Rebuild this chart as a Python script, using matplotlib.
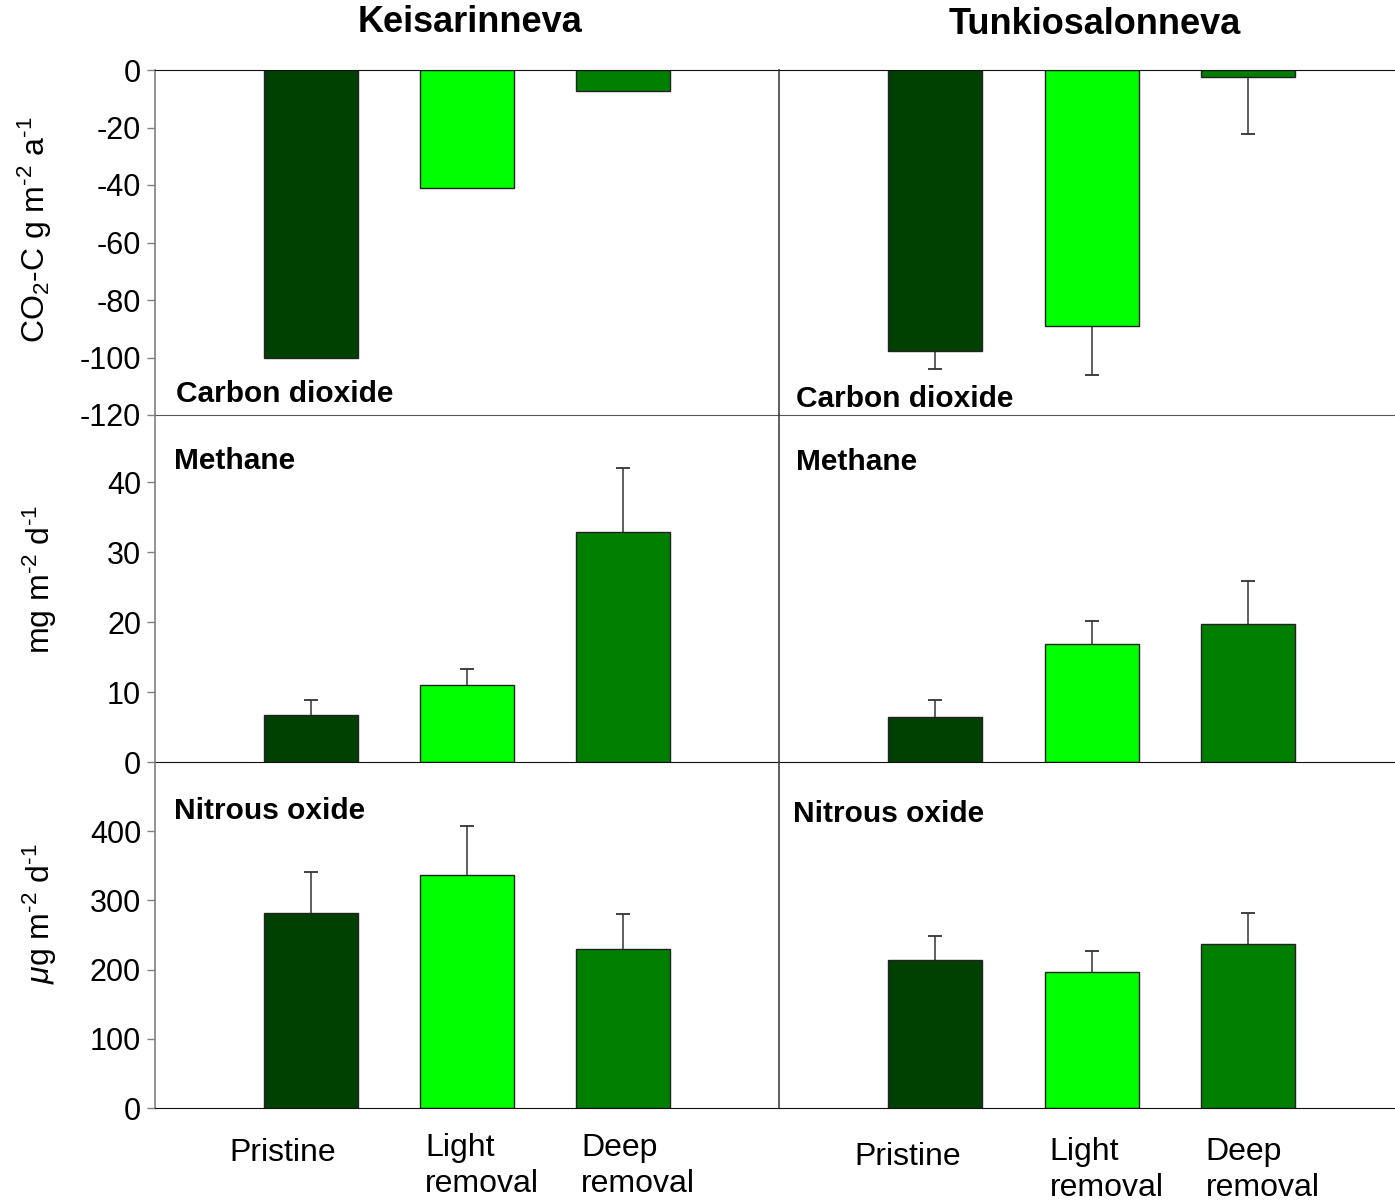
import matplotlib
matplotlib.use('Agg')
import matplotlib.pyplot as plt
import matplotlib.transforms as mtrans

plt.rcParams['font.family'] = ['Liberation Sans', 'DejaVu Sans']
plt.rcParams['mathtext.fontset'] = 'custom'
plt.rcParams['mathtext.rm'] = 'Liberation Sans'
plt.rcParams['mathtext.it'] = 'Liberation Sans:italic'
plt.rcParams['axes.unicode_minus'] = False

# data
treatments = ['Pristine', 'Light\nremoval', 'Deep\nremoval']
sites = ['Keisarinneva', 'Tunkiosalonneva']

co2_keis = [-100.2, -41.0, -7.3]
co2_tunk = [-97.7, -89.0, -2.4]
co2_tunk_se = [6.3, 17.0, 20.0]

ch4_keis = [6.7, 11.0, 32.9]
ch4_keis_se = [2.2, 2.3, 9.1]
ch4_tunk = [6.4, 16.9, 19.7]
ch4_tunk_se = [2.5, 3.2, 6.2]

n2o_keis = [281.6, 336.5, 229.6]
n2o_keis_se = [59.2, 70.5, 50.4]
n2o_tunk = [213.7, 196.4, 236.8]
n2o_tunk_se = [34.3, 30.3, 44.8]

colors = ['#004000', '#00ff00', '#007f00']
xpos = [1, 2, 3]

fig = plt.figure(figsize=(13.95, 12.02), dpi=100)

W, H = 1395., 1202.
cols = [(155, 779), (779, 1395)]
rows = [(70, 415), (415, 762), (762, 1108)]

panels = [
    [(co2_keis, None, (-120, 0), range(-120, 1, 20), 'Carbon dioxide', (0.034, 0.061)),
     (co2_tunk, co2_tunk_se, (-120, 0), None, 'Carbon dioxide', (0.028, 0.046))],
    [(ch4_keis, ch4_keis_se, (0, 49.6), range(0, 41, 10), 'Methane', (0.03, 0.867)),
     (ch4_tunk, ch4_tunk_se, (0, 49.6), None, 'Methane', (0.028, 0.865))],
    [(n2o_keis, n2o_keis_se, (0, 500), range(0, 401, 100), 'Nitrous oxide', (0.03, 0.858)),
     (n2o_tunk, n2o_tunk_se, (0, 500), None, 'Nitrous oxide', (0.023, 0.85))],
]

for r, (y0, y1) in enumerate(rows):
    for c, (x0, x1) in enumerate(cols):
        vals, se, ylim, ticks, name, lpos = panels[r][c]
        ax = fig.add_axes([x0 / W, 1 - y1 / H, (x1 - x0) / W, (y1 - y0) / H])
        ax.bar(xpos, vals, width=0.6, color=colors, edgecolor='#222222', linewidth=1.0, zorder=2)
        if se is not None:
            # one-sided error bars, cap only at the tip
            tips = [v - e if v < 0 else v + e for v, e in zip(vals, se)]
            ax.vlines(xpos, vals, tips, color='#333333', linewidth=1.1, zorder=1)
            ax.plot(xpos, tips, linestyle='none', marker='_', markersize=10,
                    markeredgewidth=1.3, color='#333333', zorder=1)
        ax.set_xlim(0, 4 if c == 0 else 3.94)
        ax.set_ylim(*ylim)
        ax.set_xticks([])
        ax.spines['right'].set_visible(False)
        ax.spines['top'].set_visible(r == 0)
        ax.spines['top'].set_color('#111111')
        ax.spines['bottom'].set_color('#555555' if r == 0 else '#111111')
        ax.spines['left'].set_color('#808080' if c == 0 else '#444444')
        ax.spines['left'].set_linewidth(1.2)
        if ticks is not None:
            ax.set_yticks(list(ticks))
            ax.tick_params(axis='y', direction='out', length=6, width=1.0,
                           color='#808080', labelsize=22, pad=4)
        else:
            ax.set_yticks([])
        ax.patch.set_alpha(0)
        ax.text(lpos[0], lpos[1], name, transform=ax.transAxes, fontsize=21.5,
                fontweight='bold', ha='left', va='center')

        if r == 2:
            trans = mtrans.blended_transform_factory(ax.transData, ax.transAxes)
            dy = 0 if c == 0 else -0.012
            ax.text(0.82, -0.13 + dy, treatments[0], transform=trans, fontsize=23,
                    ha='center', va='center')
            ax.text(1.73, -0.072 + dy, treatments[1], transform=trans, fontsize=23,
                    ha='left', va='top', linespacing=1.25)
            ax.text(2.73, -0.072 + dy, treatments[2], transform=trans, fontsize=23,
                    ha='left', va='top', linespacing=1.25)

fig.text(470 / W, 1 - 23 / H, sites[0], fontsize=26, fontweight='bold', ha='center', va='center')
fig.text(1095 / W, 1 - 25 / H, sites[1], fontsize=26, fontweight='bold', ha='center', va='center')

fig.text(35 / W, 1 - 230 / H, r'CO$_2$-C g m$^{\text{-2}}$ a$^{\text{-1}}$', rotation=90,
         fontsize=23, ha='center', va='center')
fig.text(40 / W, 1 - 580 / H, r'mg m$^{\text{-2}}$ d$^{\text{-1}}$', rotation=90,
         fontsize=23, ha='center', va='center')
fig.text(40 / W, 1 - 914 / H, r'$\mathit{\mu}$g m$^{\text{-2}}$ d$^{\text{-1}}$', rotation=90,
         fontsize=23, ha='center', va='center')

fig.savefig('out.png', dpi=100)
